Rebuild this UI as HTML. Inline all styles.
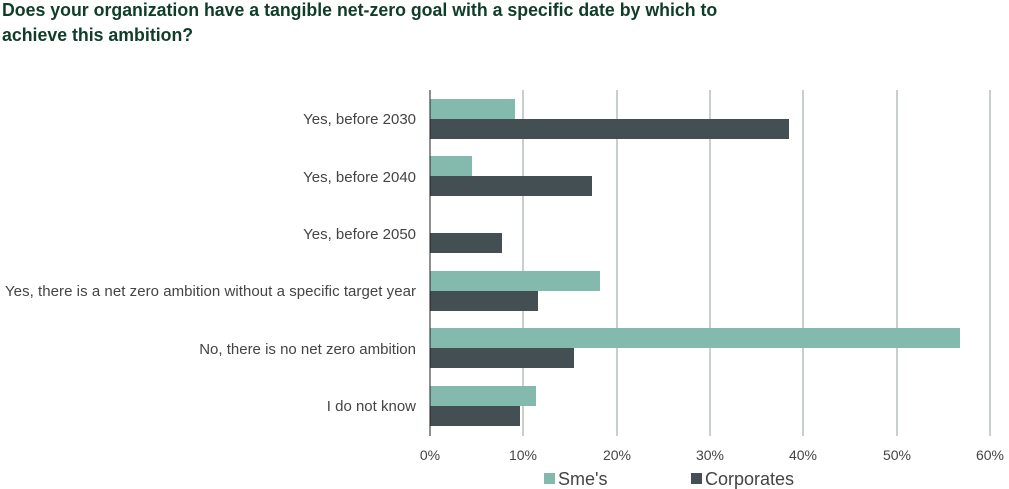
<!DOCTYPE html>
<html><head><meta charset="utf-8"><style>
body{margin:0;background:#fff;width:1009px;height:489px;overflow:hidden;font-family:"Liberation Sans",sans-serif}
.t{position:absolute;left:2px;font-weight:bold;color:#0f3d2a;font-size:18px;white-space:nowrap;transform-origin:0 0;transform:scaleX(0.985)}
</style></head><body>
<div class="t" style="top:0px">Does your organization have a tangible net-zero goal with a specific date by which to</div>
<div class="t" style="top:25px">achieve this ambition?</div>
<svg width="1009" height="489" style="position:absolute;left:0;top:0" font-family="Liberation Sans, sans-serif">
<g stroke="#c9cfcd" stroke-width="2">
<line x1="523" y1="90" x2="523" y2="436"/><line x1="617" y1="90" x2="617" y2="436"/>
<line x1="710" y1="90" x2="710" y2="436"/><line x1="803" y1="90" x2="803" y2="436"/>
<line x1="897" y1="90" x2="897" y2="436"/><line x1="990" y1="90" x2="990" y2="436"/>
</g>
<g fill="#84b9ad">
<rect x="430" y="99" width="85" height="20"/>
<rect x="430" y="156" width="42" height="20"/>
<rect x="430" y="271" width="170" height="20"/>
<rect x="430" y="328" width="530" height="20"/>
<rect x="430" y="386" width="106" height="20"/>
</g>
<g fill="#434f52">
<rect x="430" y="119" width="359" height="20"/>
<rect x="430" y="176" width="162" height="20"/>
<rect x="430" y="233" width="72" height="20"/>
<rect x="430" y="291" width="108" height="20"/>
<rect x="430" y="348" width="144" height="20"/>
<rect x="430" y="406" width="90" height="20"/>
</g>
<line x1="430" y1="90" x2="430" y2="436" stroke="#222" stroke-width="1"/>
<g font-size="15" fill="#444" text-anchor="end">
<text x="416" y="124">Yes, before 2030</text>
<text x="416" y="182">Yes, before 2040</text>
<text x="416" y="239">Yes, before 2050</text>
<text x="416" y="296" textLength="411">Yes, there is a net zero ambition without a specific target year</text>
<text x="416" y="354">No, there is no net zero ambition</text>
<text x="416" y="411">I do not know</text>
</g>
<g font-size="14" fill="#444" text-anchor="middle">
<text x="430" y="460">0%</text><text x="523" y="460">10%</text><text x="617" y="460">20%</text>
<text x="710" y="460">30%</text><text x="803" y="460">40%</text><text x="897" y="460">50%</text><text x="990" y="460">60%</text>
</g>
<rect x="544" y="473" width="11" height="11" fill="#84b9ad"/>
<text x="558" y="485" font-size="18" fill="#444">Sme's</text>
<rect x="691" y="473" width="11" height="11" fill="#434f52"/>
<text x="705" y="485" font-size="18" fill="#444">Corporates</text>
</svg>
</body></html>
